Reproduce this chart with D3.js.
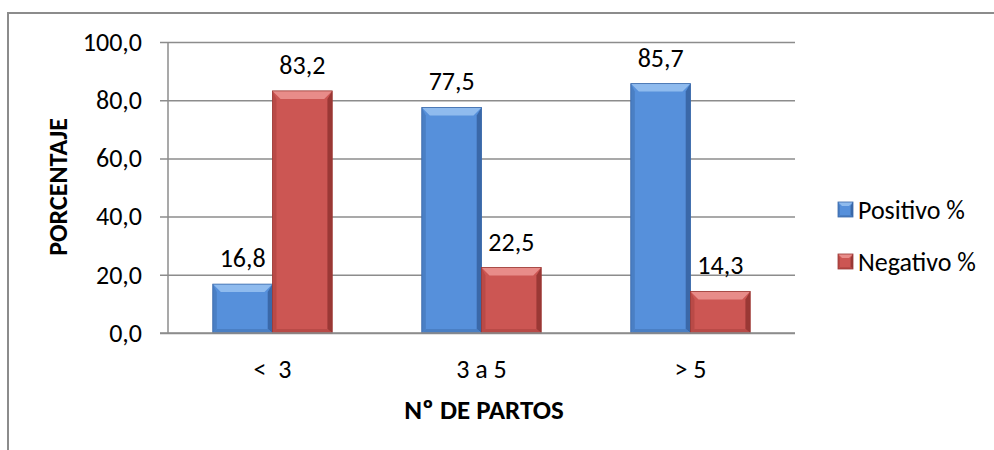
<!DOCTYPE html>
<html>
<head>
<meta charset="utf-8">
<script src="https://cdn.jsdelivr.net/npm/d3@7"></script>
<style>
  html, body { margin: 0; padding: 0; background: #fff; }
  svg { display: block; font-family: Calibri, Carlito, Lato, sans-serif; }
</style>
</head>
<body>
<div id="chart"></div>
<script>
// Bar chart: Positivo / Negativo % by Nº de partos

const categories = ['<  3', '3 a 5', '> 5'];
const seriesNames = ['Positivo %', 'Negativo %'];
const positivo = [16.8, 77.5, 85.7];
const negativo = [83.2, 22.5, 14.3];
const yTicks = [0, 20, 40, 60, 80, 100];

const width = 994;
const height = 450;
const plot = { left: 168, right: 795, top: 42, bottom: 333 };
const fontSize = 26;

// main / light (top bevel) / side / dark (edges)
const palette = {
    'Positivo %': { main: '#5690db', light: '#8fbbee', side: '#4a7fc4', dark: '#3a68a8' },
    'Negativo %': { main: '#cc5653', light: '#e88c89', side: '#b94a47', dark: '#9a3835' }
};

const fmt = v => v.toFixed(1).replace('.', ',');

const svg = d3.select('#chart')
    .append('svg')
    .attr('width', width)
    .attr('height', height);

// chart frame (only top and left edges are in the picture)
svg.append('path')
    .attr('d', `M8,${height} L8,13 L${width},13`)
    .attr('fill', 'none')
    .attr('stroke', '#8c8c8c')
    .attr('stroke-width', 2);

const y = d3.scaleLinear().domain([0, 100]).range([plot.bottom, plot.top]);
const x0 = d3.scaleBand().domain(categories).range([plot.left, plot.right]);
const x1 = d3.scaleBand().domain(seriesNames).range([0, x0.bandwidth()]).paddingOuter(0.75);

// gridlines + y axis
const yAxis = d3.axisLeft(y)
    .tickValues(yTicks)
    .tickSize(-(plot.right - plot.left))
    .tickPadding(26)
    .tickFormat(fmt);

const gy = svg.append('g')
    .attr('transform', `translate(${plot.left},0)`)
    .call(yAxis);
gy.select('.domain').remove();
gy.selectAll('.tick line')
    .attr('x1', -8)
    .attr('stroke', '#8c8c8c')
    .attr('stroke-width', 1.5);
gy.selectAll('.tick text')
    .attr('font-size', fontSize)
    .attr('font-family', 'Calibri, Carlito, Lato, sans-serif')
    .attr('fill', '#000');

svg.append('line')
    .attr('x1', plot.left).attr('x2', plot.left)
    .attr('y1', plot.top).attr('y2', plot.bottom)
    .attr('stroke', '#8c8c8c')
    .attr('stroke-width', 1.5);

// bars with bevel
const rows = [];
categories.forEach((c, i) => {
    rows.push({ cat: c, series: 'Positivo %', value: positivo[i] });
    rows.push({ cat: c, series: 'Negativo %', value: negativo[i] });
});

function bevelBar(g, bx, by, bw, bh, col, b) {
    b = Math.min(b, bh / 2, bw / 2);
    g.append('rect').attr('x', bx).attr('y', by).attr('width', bw).attr('height', bh).attr('fill', col.main);
    // top
    g.append('polygon')
        .attr('points', [[bx, by], [bx + bw, by], [bx + bw - b, by + b], [bx + b, by + b]].join(' '))
        .attr('fill', col.light);
    // left
    g.append('polygon')
        .attr('points', [[bx, by], [bx + b * 0.5, by + b], [bx + b * 0.5, by + bh - b * 0.5], [bx, by + bh]].join(' '))
        .attr('fill', col.side);
    // right
    g.append('polygon')
        .attr('points', [[bx + bw, by], [bx + bw - b * 0.6, by + b], [bx + bw - b * 0.6, by + bh - b * 0.5], [bx + bw, by + bh]].join(' '))
        .attr('fill', col.dark);
    // bottom
    g.append('polygon')
        .attr('points', [[bx, by + bh], [bx + b * 0.5, by + bh - b * 0.5], [bx + bw - b * 0.6, by + bh - b * 0.5], [bx + bw, by + bh]].join(' '))
        .attr('fill', col.side);
    g.append('rect').attr('x', bx).attr('y', by).attr('width', bw).attr('height', bh)
        .attr('fill', 'none').attr('stroke', col.dark).attr('stroke-width', 0.8);
}

const barsG = svg.append('g');
rows.forEach(d => {
    const bx = x0(d.cat) + x1(d.series);
    const by = y(d.value);
    const g = barsG.append('g');
    bevelBar(g, bx, by, x1.bandwidth(), y(0) - by, palette[d.series], 8);
    svg.append('text')
        .attr('x', bx + x1.bandwidth() / 2)
        .attr('y', by - 17)
        .attr('text-anchor', 'middle')
        .attr('font-size', fontSize)
        .attr('fill', '#000')
        .text(fmt(d.value));
});

// baseline at 0
svg.append('line')
    .attr('x1', plot.left - 8).attr('x2', plot.right)
    .attr('y1', y(0)).attr('y2', y(0))
    .attr('stroke', '#8c8c8c')
    .attr('stroke-width', 1.5);

// category labels
svg.append('g').selectAll('text')
    .data(categories)
    .enter()
    .append('text')
    .attr('x', d => x0(d) + x0.bandwidth() / 2)
    .attr('y', 378)
    .attr('text-anchor', 'middle')
    .attr('font-size', fontSize)
    .attr('xml:space', 'preserve')
    .style('white-space', 'pre')
    .text(d => d);

// axis titles
svg.append('text')
    .attr('x', 484)
    .attr('y', 419)
    .attr('text-anchor', 'middle')
    .attr('font-size', 27)
    .attr('font-weight', 'bold')
    .text('Nº DE PARTOS');

svg.append('text')
    .attr('transform', `translate(67,187) rotate(-90)`)
    .attr('text-anchor', 'middle')
    .attr('font-size', 26)
    .attr('font-weight', 'bold')
    .text('PORCENTAJE');

// legend
const legend = svg.append('g')
    .selectAll('g')
    .data(seriesNames)
    .enter()
    .append('g')
    .attr('transform', (d, i) => `translate(838,${202 + i * 52})`);

legend.each(function (d) {
    bevelBar(d3.select(this), 0, 0, 15, 15, palette[d], 4);
});
legend.append('text')
    .attr('x', 20)
    .attr('y', 17)
    .attr('font-size', fontSize)
    .attr('fill', '#000')
    .text(d => d);
</script>
</body>
</html>
